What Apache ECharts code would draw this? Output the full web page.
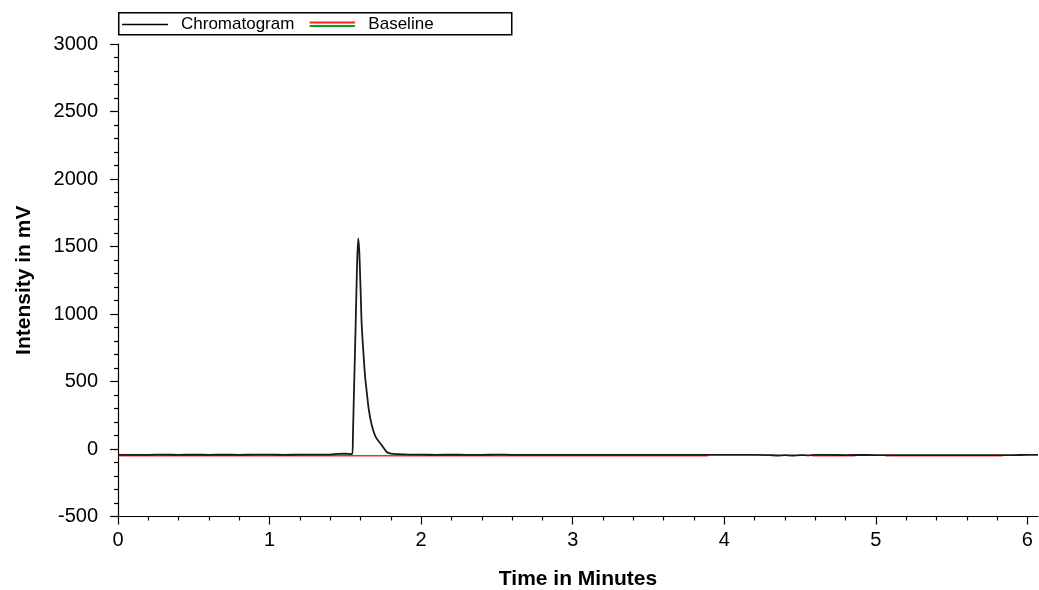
<!doctype html>
<html lang="en">

<head>
	<meta charset="UTF-8">
	<title>Chromatogram</title>
	<script src="https://cdn.jsdelivr.net/npm/echarts@6/dist/echarts.min.js"></script>
	<style>
		html,
		body {
			margin: 0;
			padding: 0;
			width: 100%;
			height: 100%;
			background: #fff;
		}

		#main {
			width: 1039px;
			height: 590px;
		}
	</style>
</head>

<body>
	<div id="main"></div>
	<script type="text/javascript">
		// time (min), intensity (mV)
		var chromatogram = [
			[0, -43], [0.1, -44], [0.2, -43], [0.3, -42], [0.4, -43], [0.5, -42], [0.6, -43], [0.7, -42],
			[0.8, -43], [0.9, -42], [1.0, -42], [1.1, -43], [1.2, -42], [1.3, -42], [1.4, -41], [1.45, -36],
			[1.5, -35], [1.53, -37], [1.546, -38], [1.55, 100], [1.557, 425], [1.568, 919], [1.577, 1350],
			[1.585, 1560], [1.592, 1460], [1.6, 1200], [1.608, 919], [1.62, 700], [1.63, 540], [1.641, 425],
			[1.655, 290], [1.674, 178], [1.7, 90], [1.74, 28], [1.773, -22], [1.8, -34], [1.85, -38], [1.9, -40],
			[2.0, -42], [2.1, -43], [2.2, -42], [2.3, -43], [2.4, -43], [2.5, -42], [2.6, -43], [2.7, -44],
			[2.8, -43], [2.9, -43], [3.0, -43], [3.1, -43], [3.2, -44], [3.3, -43], [3.4, -43], [3.5, -44],
			[3.6, -43], [3.7, -43], [3.8, -43], [3.9, -44], [4.0, -44], [4.1, -44], [4.2, -44], [4.3, -45],
			[4.35, -48], [4.4, -45], [4.45, -48], [4.5, -45], [4.55, -47], [4.6, -44], [4.7, -44], [4.8, -45],
			[4.9, -44], [5.0, -45], [5.1, -45], [5.2, -45], [5.3, -46], [5.4, -45], [5.5, -46], [5.6, -46],
			[5.7, -46], [5.8, -45], [5.9, -45], [6.0, -44], [6.07, -44]
		];
		// integration baselines, null = gap
		var baselineTime = [0, 3.895, 3.9, 4.58, 4.865, 4.87, 5.06, 5.84];
		var baselineMv = [-50, -50, null, -50, -50, null, -50, -50];

		var xMajorTicks = [0, 1, 2, 3, 4, 5, 6];
		var xMinorTicks = [0.2, 0.4, 0.6, 0.8, 1.2, 1.4, 1.6, 1.8, 2.2, 2.4, 2.6, 2.8,
			3.2, 3.4, 3.6, 3.8, 4.2, 4.4, 4.6, 4.8, 5.2, 5.4, 5.6, 5.8];

		var baselineData = baselineTime.map(function (t, i) {
			return [t, baselineMv[i] === null ? '-' : baselineMv[i]];
		});

		var font = 'Arial, "Liberation Sans", sans-serif';
		var baseIcon = 'image://data:image/svg+xml;utf8,' + encodeURIComponent(
			'<svg xmlns="http://www.w3.org/2000/svg" width="46" height="7">' +
			'<rect x="0" y="0.5" width="46" height="2" fill="#ff2020"/>' +
			'<rect x="0" y="4" width="46" height="2" fill="#10a010"/></svg>');

		var myChart = echarts.init(document.getElementById('main'));
		var option = {
			animation: false,
			backgroundColor: '#fff',
			graphic: [{
				type: 'rect',
				left: 118,
				top: 12,
				z: 0,
				shape: { width: 393, height: 22 },
				style: { fill: '#fff', stroke: '#000', lineWidth: 1.5 }
			}],
			legend: {
				left: 122,
				top: 16,
				padding: 0,
				itemGap: 15,
				itemWidth: 46,
				itemHeight: 14,
				z: 5,
				textStyle: { fontFamily: font, fontSize: 17, color: '#000', padding: [0, 0, 0, 8] },
				data: [
					{ name: 'Chromatogram', icon: 'path://M0,6H46V7.5H0Z', itemStyle: { color: '#000' } },
					{ name: 'Baseline', icon: baseIcon }
				]
			},
			grid: { left: 118, right: 1, top: 44, bottom: 73.5, containLabel: false, outerBoundsMode: 'none' },
			xAxis: [{
				type: 'value',
				min: 0,
				max: 6.07,
				interval: 1,
				name: 'Time in Minutes',
				nameLocation: 'middle',
				nameGap: 52,
				nameTextStyle: { fontFamily: font, fontSize: 21, fontWeight: 'bold', color: '#000' },
				splitLine: { show: false },
				axisLine: { onZero: false, lineStyle: { color: '#000', width: 1.2 } },
				axisTick: { length: 8, customValues: xMajorTicks, lineStyle: { color: '#000', width: 1.2 } },
				axisLabel: { customValues: xMajorTicks, margin: 14, fontFamily: font, fontSize: 20, color: '#000' }
			}, {
				type: 'value',
				min: 0,
				max: 6.07,
				position: 'bottom',
				splitLine: { show: false },
				axisLine: { show: false, onZero: false },
				axisTick: { length: 4, customValues: xMinorTicks, lineStyle: { color: '#000', width: 1.2 } },
				axisLabel: { show: false }
			}],
			yAxis: {
				type: 'value',
				min: -500,
				max: 3000,
				interval: 500,
				name: 'Intensity in mV',
				nameLocation: 'middle',
				nameRotate: 90,
				nameGap: 83,
				nameTextStyle: { fontFamily: font, fontSize: 21, fontWeight: 'bold', color: '#000' },
				splitLine: { show: false },
				axisLine: { show: true, onZero: false, lineStyle: { color: '#000', width: 1.2 } },
				axisTick: { show: true, length: 8, lineStyle: { color: '#000', width: 1.2 } },
				minorTick: { show: true, splitNumber: 5, length: 4, lineStyle: { color: '#000', width: 1.2 } },
				axisLabel: {
					margin: 20, fontFamily: font, fontSize: 20, color: '#000',
					formatter: function (v) { return String(v); }
				}
			},
			series: [{
				name: 'Baseline',
				type: 'line',
				xAxisIndex: 0,
				data: baselineData,
				showSymbol: false,
				symbol: 'none',
				connectNulls: false,
				color: '#f03030',
				lineStyle: { color: '#f03030', width: 1.5 },
				z: 2
			}, {
				name: 'Chromatogram',
				type: 'line',
				xAxisIndex: 0,
				data: chromatogram,
				showSymbol: false,
				symbol: 'none',
				smooth: 0.3,
				color: '#000',
				lineStyle: { color: '#1a1a1a', width: 1.8 },
				z: 3
			}]
		};
		myChart.setOption(option);
	</script>
</body>

</html>
